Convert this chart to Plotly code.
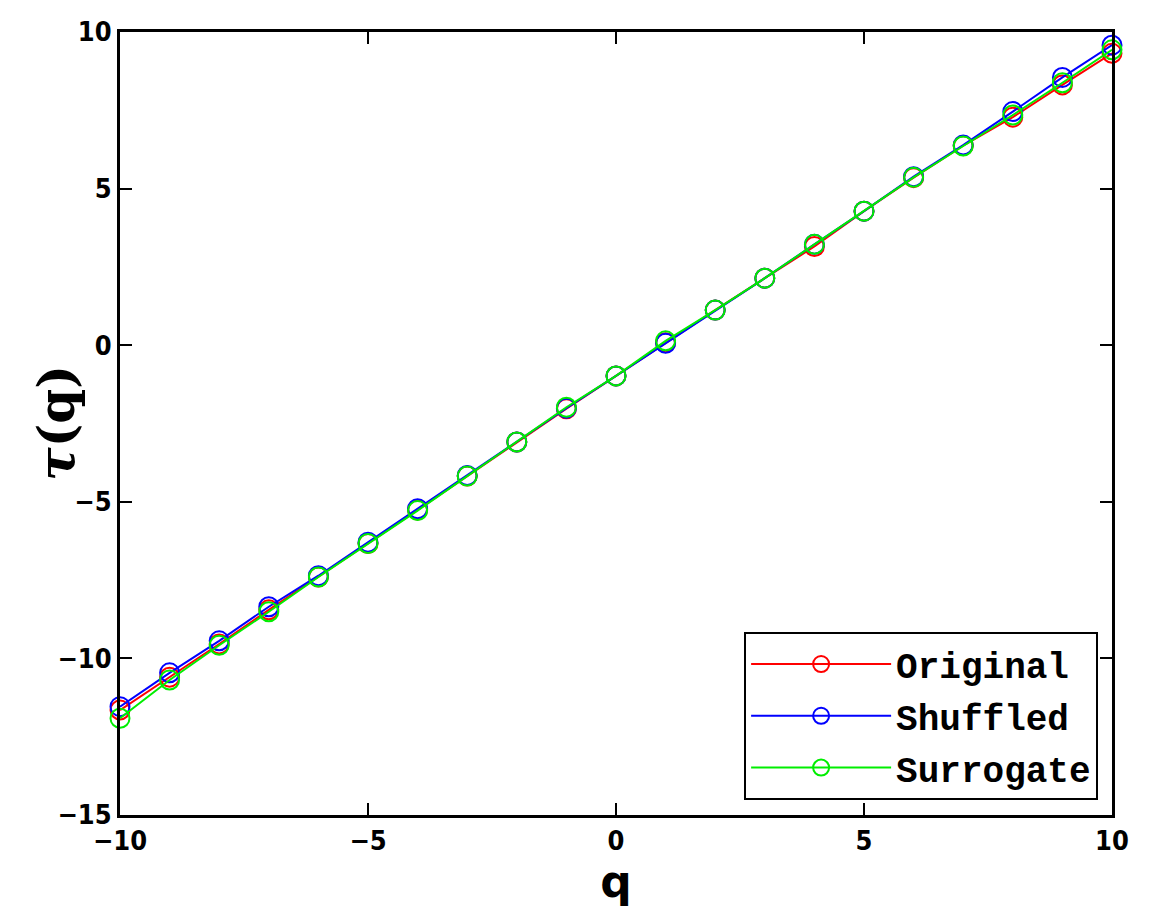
import plotly.graph_objects as go

q = list(range(-10, 11))

# tau(q)
tau_original = [-11.65, -10.60, -9.54, -8.45, -7.40, -6.33, -5.26, -4.18, -3.09, -2.03, -0.98,
                0.08, 1.12, 2.14, 3.15, 4.28, 5.35, 6.37, 7.28, 8.31, 9.32]
tau_shuffled = [-11.54, -10.46, -9.44, -8.35, -7.36, -6.29, -5.22, -4.16, -3.09, -2.01, -0.98,
                0.06, 1.12, 2.14, 3.22, 4.28, 5.38, 6.39, 7.46, 8.55, 9.58]
tau_surrogate = [-11.91, -10.69, -9.58, -8.51, -7.40, -6.33, -5.28, -4.18, -3.09, -1.98, -0.98,
                 0.14, 1.12, 2.14, 3.22, 4.28, 5.36, 6.36, 7.35, 8.38, 9.43]

series = [
    ("Original", tau_original, "#ff0000", 2),
    ("Shuffled", tau_shuffled, "#0000ff", 2),
    ("Surrogate", tau_surrogate, "#00ee00", 2),
]

fig = go.Figure()
for name, vals, col, w in series:
    fig.add_trace(go.Scatter(
        x=q, y=vals, name=name, mode="lines+markers", legendgroup=name,
        line=dict(color=col, width=w),
        marker=dict(symbol="circle-open", size=19, color=col, line=dict(width=2, color=col)),
        cliponaxis=False,
    ))

axis_style = dict(
    showline=True, linecolor="black", linewidth=3, mirror="ticks",
    ticks="inside", ticklen=12, tickwidth=2, tickcolor="black",
    showgrid=False, zeroline=False, automargin=False,
    tickfont=dict(family="DejaVu Sans Condensed, DejaVu Sans", size=27, color="black", weight="bold"),
)

fig.update_xaxes(range=[-10, 10], tickvals=[-10, -5, 0, 5, 10],
                 title=dict(text="<b>q</b>", font=dict(family="DejaVu Sans", size=44, color="black"),
                            standoff=0),
                 **axis_style)
fig.update_yaxes(range=[-15, 10], tickvals=[-15, -10, -5, 0, 5, 10], **axis_style)

# y title placed by hand so it sits close to the tick labels as in the original
fig.add_annotation(text="<b><i>τ</i>(q)</b>", xref="paper", yref="paper",
                   x=-0.064, y=0.5, xanchor="center", yanchor="middle", textangle=-90,
                   showarrow=False, font=dict(family="DejaVu Serif", size=50, color="black"))

fig.update_layout(
    width=1158, height=912,
    margin=dict(l=112, r=54, t=24, b=105),
    plot_bgcolor="white", paper_bgcolor="white",
    legend=dict(
        x=0.986, y=0.019, xanchor="right", yanchor="bottom",
        bgcolor="white", bordercolor="black", borderwidth=2,
        font=dict(family="Liberation Mono", size=36, color="black", weight="bold"),
        tracegroupgap=2, itemwidth=140,
    ),
)

fig.write_html("out.html")
